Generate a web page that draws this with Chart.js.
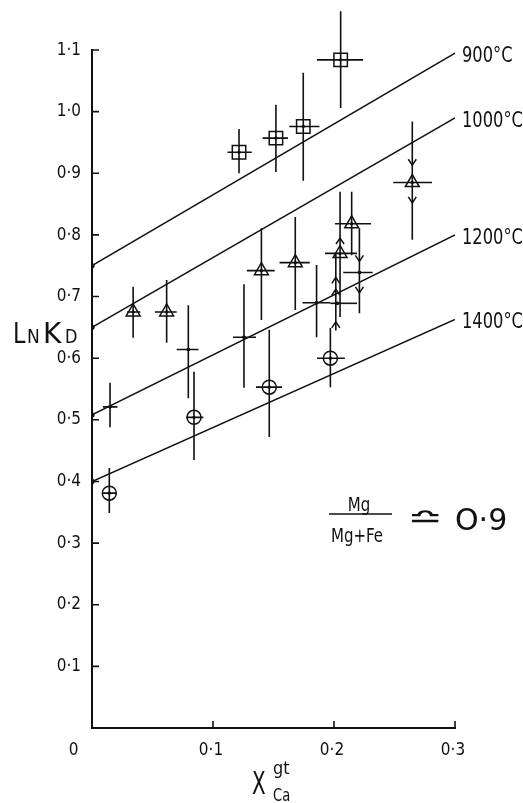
<!DOCTYPE html>
<html>
<head>
<meta charset="utf-8">
<script src="https://cdn.jsdelivr.net/npm/chart.js@4.4.0/dist/chart.umd.min.js"></script>
<style>
  html, body { margin: 0; padding: 0; background: #fff; }
  #wrap { width: 523px; height: 803px; }
</style>
</head>
<body>
<div id="wrap"><canvas id="lnkdChart" width="523" height="803"></canvas></div>
<script>
// isotherms (ln KD vs X_Ca garnet)
var isoLabels = ['900°C', '1000°C', '1200°C', '1400°C'];
var isoX = [0, 0.3];
var isoY = [[0.75, 1.095], [0.65, 0.99], [0.508, 0.80], [0.40, 0.663]];

// squares
var sqX   = [0.1215, 0.152, 0.1746, 0.2055];
var sqY   = [0.934, 0.957, 0.976, 1.084];
var sqXLo = [0.112, 0.141, 0.163, 0.186];
var sqXHi = [0.132, 0.162, 0.188, 0.224];
var sqYLo = [0.900, 0.902, 0.888, 1.006];
var sqYHi = [0.972, 1.011, 1.063, 1.163];

// triangles
var trX   = [0.034, 0.0617, 0.140, 0.168, 0.205, 0.2146, 0.2647];
var trY   = [0.675, 0.675, 0.742, 0.755, 0.770, 0.818, 0.885];
var trXLo = [0.029, 0.052, 0.128, 0.155, 0.1926, 0.2008, 0.249];
var trXHi = [0.040, 0.070, 0.151, 0.180, 0.219, 0.2306, 0.281];
var trYLo = [0.633, 0.625, 0.662, 0.678, 0.667, 0.767, 0.792];
var trYHi = [0.716, 0.727, 0.811, 0.829, 0.870, 0.870, 0.984];

// plain crosses
var crX   = [0.0149, 0.0796, 0.1256, 0.1856, 0.2027, 0.221];
var crY   = [0.521, 0.614, 0.634, 0.690, 0.689, 0.739];
var crXLo = [0.009, 0.070, 0.1165, 0.174, 0.197, 0.2076];
var crXHi = [0.021, 0.088, 0.1355, 0.197, 0.219, 0.232];
var crYLo = [0.488, 0.535, 0.552, 0.634, 0.689, 0.673];
var crYHi = [0.560, 0.686, 0.720, 0.751, 0.689, 0.811];

// circles with cross
var ciX   = [0.0143, 0.0843, 0.1465, 0.197];
var ciY   = [0.381, 0.504, 0.553, 0.600];
var ciXLo = [0.009, 0.078, 0.1355, 0.186];
var ciXHi = [0.020, 0.092, 0.157, 0.209];
var ciYLo = [0.349, 0.435, 0.472, 0.553];
var ciYHi = [0.422, 0.578, 0.646, 0.649];

// reversal arrows: tip position and direction (1 up, -1 down)
var arrowX   = [0.2647, 0.2647, 0.221, 0.221, 0.2015, 0.2015, 0.2015, 0.205];
var arrowY   = [0.913, 0.852, 0.757, 0.706, 0.659, 0.712, 0.731, 0.795];
var arrowDir = [-1, -1, -1, -1, 1, 1, 1, 1];
var linkX  = [0.2015];
var linkY0 = [0.645];
var linkY1 = [0.770];

var FONT = "'DejaVu Sans', 'Liberation Sans', sans-serif";

function pts(xs, ys) {
    return xs.map(function (v, i) { return {x: v, y: ys[i]}; });
}
function errs(xl, xh, yl, yh) {
    return xl.map(function (v, i) { return {xl: v, xh: xh[i], yl: yl[i], yh: yh[i]}; });
}
// text squeezed horizontally (the original lettering is a narrow stencil face)
function txt(ctx, s, x, y, size, sx, align, base, sy) {
    ctx.save();
    ctx.font = size + 'px ' + FONT;
    ctx.textAlign = align || 'left';
    ctx.textBaseline = base || 'alphabetic';
    ctx.translate(x, y);
    ctx.scale(sx, sy || 1);
    ctx.fillText(s, 0, 0);
    ctx.restore();
}
function tickText(v) {
    return v < 0.001 ? '' : v.toFixed(1).replace('.', '·');
}

var datasets = [];
for (let i = 0; i < isoLabels.length; i++) {
    datasets.push({
        type: 'line',
        label: isoLabels[i],
        data: pts(isoX, isoY[i]),
        borderColor: '#111',
        borderWidth: 1.5,
        pointRadius: [2.6, 0],
        pointBackgroundColor: '#111',
        pointBorderWidth: 0,
        fill: false,
        iso: true
    });
}
datasets.push({label: 'sq', data: pts(sqX, sqY), err: errs(sqXLo, sqXHi, sqYLo, sqYHi),
    pointStyle: 'rect', pointRadius: 9.5, borderColor: '#111', borderWidth: 1.5, backgroundColor: 'rgba(0,0,0,0)'});
datasets.push({label: 'tr', data: pts(trX, trY), err: errs(trXLo, trXHi, trYLo, trYHi),
    pointStyle: 'triangle', pointRadius: 8, borderColor: '#111', borderWidth: 1.5, backgroundColor: 'rgba(0,0,0,0)'});
datasets.push({label: 'cr', data: pts(crX, crY), err: errs(crXLo, crXHi, crYLo, crYHi),
    pointStyle: 'circle', pointRadius: 1.8, borderWidth: 0, backgroundColor: '#111'});
datasets.push({label: 'ci', data: pts(ciX, ciY), err: errs(ciXLo, ciXHi, ciYLo, ciYHi),
    pointStyle: 'circle', pointRadius: 7, borderColor: '#111', borderWidth: 1.5, backgroundColor: 'rgba(0,0,0,0)'});

var marksPlugin = {
    id: 'marks',
    afterDatasetsDraw: function (chart) {
        var ctx = chart.ctx, x = chart.scales.x, y = chart.scales.y;
        ctx.save();
        ctx.strokeStyle = '#111';
        ctx.fillStyle = '#111';
        ctx.lineWidth = 1.6;
        chart.data.datasets.forEach(function (ds) {
            if (!ds.err) return;
            ds.data.forEach(function (p, i) {
                var e = ds.err[i];
                var px = x.getPixelForValue(p.x), py = y.getPixelForValue(p.y);
                ctx.beginPath();
                ctx.moveTo(x.getPixelForValue(e.xl), py);
                ctx.lineTo(x.getPixelForValue(e.xh), py);
                ctx.moveTo(px, y.getPixelForValue(e.yl));
                ctx.lineTo(px, y.getPixelForValue(e.yh));
                ctx.stroke();
                ctx.beginPath();
                ctx.arc(px, py, 1.7, 0, Math.PI * 2);
                ctx.fill();
            });
        });
        // connecting lines and arrow heads
        ctx.beginPath();
        for (let i = 0; i < linkX.length; i++) {
            var lx = x.getPixelForValue(linkX[i]);
            ctx.moveTo(lx, y.getPixelForValue(linkY0[i]));
            ctx.lineTo(lx, y.getPixelForValue(linkY1[i]));
        }
        ctx.stroke();
        ctx.lineWidth = 1.5;
        for (let i = 0; i < arrowX.length; i++) {
            var ax = x.getPixelForValue(arrowX[i]), ay = y.getPixelForValue(arrowY[i]);
            var d = arrowDir[i];
            ctx.beginPath();
            ctx.moveTo(ax - 4, ay + d * 6);
            ctx.lineTo(ax, ay);
            ctx.lineTo(ax + 4, ay + d * 6);
            ctx.stroke();
        }
        // isotherm labels
        chart.data.datasets.forEach(function (ds, di) {
            if (!ds.iso) return;
            var el = chart.getDatasetMeta(di).data[1];
            txt(ctx, ds.label, el.x + 7, el.y + 3, 22, 0.74, 'left', 'middle');
        });
        ctx.restore();
    },
    afterDraw: function (chart) {
        var ctx = chart.ctx, x = chart.scales.x, y = chart.scales.y, a = chart.chartArea;
        ctx.save();
        ctx.strokeStyle = '#111';
        ctx.lineWidth = 1.6;
        ctx.beginPath();
        y.ticks.forEach(function (t) {
            var py = y.getPixelForValue(t.value);
            ctx.moveTo(a.left, py); ctx.lineTo(a.left + 7, py);
        });
        x.ticks.forEach(function (t) {
            var px = x.getPixelForValue(t.value);
            ctx.moveTo(px, a.bottom); ctx.lineTo(px, a.bottom - 7);
        });
        ctx.stroke();

        ctx.fillStyle = '#111';
        // tick labels
        y.ticks.forEach(function (t) {
            txt(ctx, tickText(t.value), a.left - 11, y.getPixelForValue(t.value), 18, 0.85, 'right', 'middle');
        });
        x.ticks.forEach(function (t) {
            txt(ctx, tickText(t.value), x.getPixelForValue(t.value) - 2, a.bottom + 22, 18, 0.85, 'center', 'middle');
        });
        // origin label
        txt(ctx, '0', 73.5, a.bottom + 22, 18, 0.85, 'center', 'middle');
        // y axis title  Ln KD
        txt(ctx, 'L', 13, 343, 28, 0.8);
        txt(ctx, 'N', 27, 343, 19, 0.9);
        txt(ctx, 'K', 43, 343, 28, 1.0);
        txt(ctx, 'D', 65, 343, 19, 0.85);
        // x axis title  X gt Ca
        txt(ctx, 'X', 252, 794, 32, 0.62);
        txt(ctx, 'gt', 273, 774, 17, 0.95);
        txt(ctx, 'Ca', 273, 801, 17, 0.77);
        // Mg/(Mg+Fe) ≏ 0.9
        txt(ctx, 'Mg', 359, 511, 20, 0.75, 'center');
        txt(ctx, 'Mg+Fe', 357, 542, 20, 0.75, 'center');
        ctx.beginPath();
        ctx.lineWidth = 1.3;
        ctx.moveTo(329, 514); ctx.lineTo(392, 514);
        ctx.stroke();
        txt(ctx, '≏', 425, 527, 20, 2.1, 'center', 'alphabetic', 1.4);
        txt(ctx, 'O·9', 455, 530, 30, 1.0);
        ctx.restore();
    }
};

var config = {
    type: 'scatter',
    data: { datasets: datasets },
    options: {
        responsive: false,
        animation: false,
        layout: { padding: { top: 50, right: 68, left: 0, bottom: 0 } },
        plugins: { legend: { display: false }, tooltip: { enabled: false } },
        scales: {
            x: {
                type: 'linear', min: 0, max: 0.3,
                afterFit: function (s) { s.height = 75; },
                border: { color: '#111', width: 2 },
                grid: { display: false, drawTicks: false },
                ticks: { stepSize: 0.1, display: false }
            },
            y: {
                type: 'linear', min: 0, max: 1.1,
                afterFit: function (s) { s.width = 92; },
                border: { color: '#111', width: 2 },
                grid: { display: false, drawTicks: false },
                ticks: { stepSize: 0.1, display: false }
            }
        }
    },
    plugins: [marksPlugin]
};

var ctx = document.getElementById('lnkdChart').getContext('2d');
var lnkdChart = new Chart(ctx, config);
</script>
</body>
</html>
